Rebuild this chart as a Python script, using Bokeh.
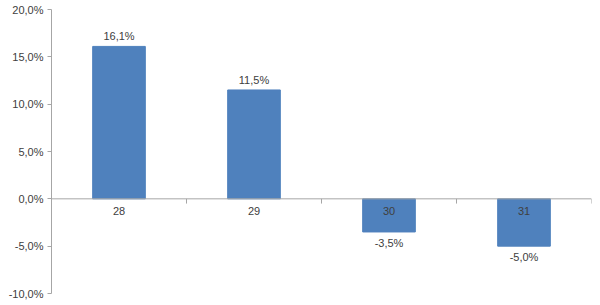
from bokeh.plotting import figure
from bokeh.models import ColumnDataSource, FixedTicker, Range1d
from bokeh.core.properties import value
from bokeh.embed import file_html
from bokeh.resources import INLINE

categories = ["28", "29", "30", "31"]
values = [16.1, 11.5, -3.5, -5.0]
value_labels = ["16,1%", "11,5%", "-3,5%", "-5,0%"]
y_ticks = [-10, -5, 0, 5, 10, 15, 20]
y_tick_labels = ["-10,0%", "-5,0%", "0,0%", "5,0%", "10,0%", "15,0%", "20,0%"]

FONT = "Liberation Sans"
TXT = "#404040"
AX = "#A6A6A6"

n = len(categories)
xs = [i + 0.5 for i in range(n)]
src = ColumnDataSource(dict(x=xs, top=values))

p = figure(width=600, height=305, output_backend="svg", toolbar_location=None,
           x_range=Range1d(0, n), y_range=Range1d(-10, 20),
           min_border_left=51, min_border_right=9, min_border_top=9, min_border_bottom=12)
p.outline_line_color = None
p.grid.grid_line_color = None
p.xaxis.visible = False
p.background_fill_color = "white"
p.border_fill_color = "white"

yax = p.yaxis[0]
yax.ticker = FixedTicker(ticks=y_ticks)
yax.major_label_overrides = {t: l for t, l in zip(y_ticks, y_tick_labels)}
yax.minor_tick_line_color = None
yax.axis_line_color = AX
yax.major_tick_line_color = AX
yax.major_tick_out = 4
yax.major_tick_in = 0
yax.major_label_text_font = FONT
yax.major_label_text_font_size = "11px"
yax.major_label_text_color = TXT
yax.major_label_standoff = 4

p.vbar(x="x", top="top", bottom=0, width=0.39, source=src,
       fill_color="#4F81BD", line_color="#4F81BD")

# zero axis line and category boundary ticks
p.segment(x0=[0], y0=[0], x1=[n], y1=[0], line_color=AX, line_width=1)
bounds = [i + 1 for i in range(n)]
p.segment(x0=bounds, y0=[0] * n, x1=bounds, y1=[-0.5] * n, line_color=AX, line_width=1)

pos = ColumnDataSource(dict(
    x=[x for x, v in zip(xs, values) if v >= 0],
    y=[v for v in values if v >= 0],
    lab=[l for l, v in zip(value_labels, values) if v >= 0],
    cat=[c for c, v in zip(categories, values) if v >= 0],
))
neg = ColumnDataSource(dict(
    x=[x for x, v in zip(xs, values) if v < 0],
    y=[v for v in values if v < 0],
    lab=[l for l, v in zip(value_labels, values) if v < 0],
    cat=[c for c, v in zip(categories, values) if v < 0],
))

common = dict(text_font=value(FONT), text_font_size="11px", text_color=TXT, text_align="center")
p.text(x="x", y="y", text="lab", source=pos, text_baseline="bottom", y_offset=-4, **common)
p.text(x="x", y="y", text="lab", source=neg, text_baseline="top", y_offset=5, **common)
p.text(x="x", y=0, text="cat", source=pos, text_baseline="top", y_offset=8, **common)
p.text(x="x", y=0, text="cat", source=neg, text_baseline="top", y_offset=8, **common)

open("out.html", "w").write(file_html(p, INLINE))
